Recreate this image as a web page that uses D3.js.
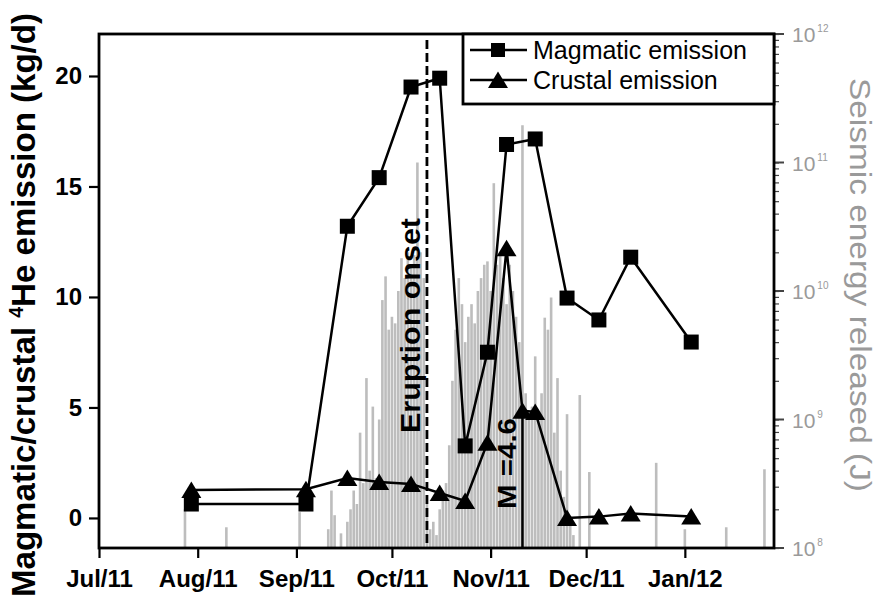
<!DOCTYPE html>
<html>
<head>
<meta charset="utf-8">
<script src="https://cdnjs.cloudflare.com/ajax/libs/d3/7.8.5/d3.min.js"></script>
<style>
body { margin: 0; background: #fff; }
svg { font-family: "Liberation Sans", Arial, sans-serif; }
</style>
</head>
<body>
<svg id="chart" width="879" height="601"></svg>
<script>
// helium emission, sampling campaigns (kg/d)
var magDates = ["2011-07-30", "2011-09-04", "2011-09-17", "2011-09-27", "2011-10-07", "2011-10-16", "2011-10-24",
                "2011-10-31", "2011-11-06", "2011-11-15", "2011-11-25", "2011-12-05", "2011-12-15", "2012-01-03"];
var magValues = [0.63, 0.63, 13.2, 15.4, 19.5, 19.9, 3.26, 7.5, 16.9, 17.15, 9.95, 8.96, 11.8, 7.96];

var crustDates = ["2011-07-30", "2011-09-04", "2011-09-17", "2011-09-27", "2011-10-07", "2011-10-16", "2011-10-24",
                  "2011-10-31", "2011-11-06", "2011-11-11", "2011-11-15", "2011-11-25", "2011-12-05", "2011-12-15", "2012-01-03"];
var crustValues = [1.27, 1.3, 1.81, 1.63, 1.54, 1.13, 0.77, 3.4, 12.2, 4.85, 4.8, 0.0, 0.06, 0.2, 0.06];

// daily seismic energy released (J)
var quakeDates = ["2011-07-28", "2011-08-10", "2011-09-02", "2011-09-11", "2011-09-12", "2011-09-13", "2011-09-15",
  "2011-09-17", "2011-09-18", "2011-09-19", "2011-09-20", "2011-09-21", "2011-09-22", "2011-09-23", "2011-09-24",
  "2011-09-25", "2011-09-26", "2011-09-27", "2011-09-28", "2011-09-29", "2011-09-30", "2011-10-01", "2011-10-02",
  "2011-10-03", "2011-10-04", "2011-10-05", "2011-10-06", "2011-10-07", "2011-10-08", "2011-10-09", "2011-10-10",
  "2011-10-11", "2011-10-12", "2011-10-13", "2011-10-14", "2011-10-15", "2011-10-16", "2011-10-17", "2011-10-18",
  "2011-10-19", "2011-10-20", "2011-10-21", "2011-10-22", "2011-10-23", "2011-10-24", "2011-10-25", "2011-10-26",
  "2011-10-27", "2011-10-28", "2011-10-29", "2011-10-30", "2011-10-31", "2011-11-01", "2011-11-02", "2011-11-03",
  "2011-11-04", "2011-11-05", "2011-11-06", "2011-11-07", "2011-11-08", "2011-11-09", "2011-11-10", "2011-11-11",
  "2011-11-12", "2011-11-13", "2011-11-14", "2011-11-15", "2011-11-16", "2011-11-17", "2011-11-18", "2011-11-19",
  "2011-11-20", "2011-11-21", "2011-11-22", "2011-11-23", "2011-11-24", "2011-11-25", "2011-11-26", "2011-11-27",
  "2011-11-29", "2011-12-02", "2011-12-23", "2012-01-01", "2012-01-14", "2012-01-26"];
var quakeEnergy = [2.0e8, 1.45e8, 1.9e8, 1.4e8, 2.8e8, 1.8e8, 1.3e8,
  1.6e8, 2.0e8, 2.8e8, 2.2e8, 7.9e8, 3.2e8, 2.1e9, 4.0e8,
  1.26e9, 3.5e8, 1.0e9, 8.5e9, 1.3e10, 5.0e9, 6.3e9, 5.6e9,
  1.0e10, 1.8e10, 1.26e10, 2.0e10, 1.6e10, 1.9e10, 1.0e11, 2.0e10,
  1.26e10, 2.2e8, 1.4e8, 1.6e8, 1.26e8, 2.0e8, 2.8e8, 3.2e8,
  6.3e8, 2.0e9, 5.0e9, 1.26e10, 7.9e9, 4.0e9, 6.3e9, 7.9e9,
  5.6e9, 1.0e10, 1.26e10, 1.6e10, 1.7e10, 1.0e10, 6.9e10, 1.6e10,
  2.0e10, 1.26e10, 7.9e9, 1.6e10, 1.0e10, 6.3e9, 4.0e9, 1.95e11,
  1.6e9, 1.0e9, 1.26e9, 3.1e9, 1.0e9, 1.6e9, 6.2e9, 5.0e9,
  8.9e9, 7.9e8, 2.1e9, 4.0e8, 2.5e8, 1.1e9, 1.6e8, 1.26e8,
  1.55e9, 3.9e8, 4.6e8, 1.4e8, 1.45e8, 4.1e8];

var eruptionDate = "2011-10-12";
var bigQuakeDate = "2011-11-11";
var bigQuakeMag = 4.6;

var leftTicks = [0, 5, 10, 15, 20];
var rightExponents = [8, 9, 10, 11, 12];
var legendLabels = ["Magmatic emission", "Crustal emission"];

function drawChart() {
    var svg = d3.select("#chart");
    var parse = d3.timeParse("%Y-%m-%d");
    var pl = 99, pr = 774, pt = 34, pb = 548;

    var x = d3.scaleTime().domain([parse("2011-07-01"), parse("2012-01-29")]).range([pl, pr]);
    var y = d3.scaleLinear().domain([-1.36, 21.9]).range([pb, pt]);
    var yE = d3.scaleLog().domain([1e8, 1e12]).range([pb, pt]);

    // seismic energy bars
    svg.append("g").selectAll("rect")
        .data(quakeDates.map(function(d, i) { return { date: parse(d), e: quakeEnergy[i] }; }))
        .enter().append("rect")
        .attr("x", function(d) { return x(d.date) - 1.3; })
        .attr("width", 2.6)
        .attr("y", function(d) { return yE(d.e); })
        .attr("height", function(d) { return pb - yE(d.e); })
        .attr("fill", "#bdbdbd");

    // M 4.6 event
    var qx = x(parse(bigQuakeDate));
    svg.append("line")
        .attr("x1", qx).attr("x2", qx)
        .attr("y1", pb).attr("y2", y(bigQuakeMag))
        .attr("stroke", "#000").attr("stroke-width", 2.5);
    svg.append("text")
        .attr("transform", "translate(" + (qx - 6) + "," + 509 + ") rotate(-90)")
        .attr("font-size", 25).attr("font-weight", "bold")
        .attr("textLength", 91).attr("lengthAdjust", "spacingAndGlyphs")
        .text("M =" + bigQuakeMag);

    // eruption onset
    var ex = x(parse(eruptionDate));
    svg.append("line")
        .attr("x1", ex).attr("x2", ex)
        .attr("y1", 40).attr("y2", pb)
        .attr("stroke", "#000").attr("stroke-width", 2.8)
        .attr("stroke-dasharray", "9,4");
    svg.append("text")
        .attr("transform", "translate(" + (ex - 7) + "," + 433 + ") rotate(-90)")
        .attr("font-size", 27).attr("font-weight", "bold")
        .attr("textLength", 215).attr("lengthAdjust", "spacingAndGlyphs")
        .text("Eruption onset");

    var line = d3.line().x(function(d) { return x(d[0]); }).y(function(d) { return y(d[1]); });
    var magData = magDates.map(function(d, i) { return [parse(d), magValues[i]]; });
    var crustData = crustDates.map(function(d, i) { return [parse(d), crustValues[i]]; });

    var triPath = "M0,-8.5L10,8L-10,8Z";

    svg.append("path").datum(crustData).attr("d", line)
        .attr("fill", "none").attr("stroke", "#000").attr("stroke-width", 2.5);
    svg.append("path").datum(magData).attr("d", line)
        .attr("fill", "none").attr("stroke", "#000").attr("stroke-width", 2.5);

    svg.append("g").selectAll("path").data(crustData).enter().append("path")
        .attr("transform", function(d) { return "translate(" + x(d[0]) + "," + y(d[1]) + ")"; })
        .attr("d", triPath).attr("fill", "#000");
    svg.append("g").selectAll("rect").data(magData).enter().append("rect")
        .attr("x", function(d) { return x(d[0]) - 7.5; })
        .attr("y", function(d) { return y(d[1]) - 7.5; })
        .attr("width", 15).attr("height", 15).attr("fill", "#000");

    // axes
    var gx = svg.append("g").attr("transform", "translate(0," + pb + ")")
        .call(d3.axisBottom(x).ticks(d3.timeMonth.every(1)).tickFormat(d3.timeFormat("%b/%y")).tickSize(10));
    gx.select(".domain").remove();
    gx.selectAll("line").attr("stroke-width", 2.2);
    gx.selectAll("text").attr("y", 39).attr("dy", 0)
        .attr("font-size", 24).attr("font-weight", "bold").attr("font-family", null);

    var gy = svg.append("g").attr("transform", "translate(" + pl + ",0)")
        .call(d3.axisLeft(y).tickValues(leftTicks).tickSize(10).tickPadding(7));
    gy.select(".domain").remove();
    gy.selectAll("line").attr("stroke-width", 2.2);
    gy.selectAll("text").attr("font-size", 24).attr("font-weight", "bold").attr("font-family", null);

    var majors = rightExponents.map(function(n) { return Math.pow(10, n); });
    var gr = svg.append("g").attr("transform", "translate(" + pr + ",0)");
    gr.call(d3.axisRight(yE).tickValues(yE.ticks()).tickSize(5).tickFormat(""));
    gr.select(".domain").remove();
    gr.selectAll("line").attr("stroke", "#444").attr("stroke-width", 1.2);
    gr.selectAll(".major").data(majors).enter().append("line")
        .attr("x1", 0).attr("x2", 10)
        .attr("y1", function(d) { return yE(d); }).attr("y2", function(d) { return yE(d); })
        .attr("stroke", "#444").attr("stroke-width", 2);
    var rl = gr.selectAll(".rlab").data(rightExponents).enter().append("text")
        .attr("x", 18).attr("y", function(n) { return yE(Math.pow(10, n)) + 8; })
        .attr("font-size", 21).attr("fill", "#9a9a9a");
    rl.append("tspan").text("10");
    rl.append("tspan").attr("dy", -10).attr("dx", 2).attr("font-size", 10).text(function(n) { return n; });

    // frame
    svg.append("rect").attr("x", pl).attr("y", pt).attr("width", pr - pl).attr("height", pb - pt)
        .attr("fill", "none").attr("stroke", "#000").attr("stroke-width", 2.8);

    // axis titles
    var lt = svg.append("text")
        .attr("transform", "translate(35,305) rotate(-90)")
        .attr("text-anchor", "middle").attr("font-size", 34).attr("font-weight", "bold")
        .attr("textLength", 584).attr("lengthAdjust", "spacingAndGlyphs");
    lt.append("tspan").text("Magmatic/crustal ");
    lt.append("tspan").attr("font-size", 20).attr("dy", -12).text("4");
    lt.append("tspan").attr("dy", 12).text("He emission (kg/d)");

    svg.append("text")
        .attr("transform", "translate(850,285) rotate(90)")
        .attr("text-anchor", "middle").attr("font-size", 29).attr("fill", "#9a9a9a")
        .attr("textLength", 414).attr("lengthAdjust", "spacingAndGlyphs")
        .text("Seismic energy released (J)");

    // legend
    var lg = svg.append("g");
    lg.append("rect").attr("x", 463).attr("y", pt).attr("width", pr - 463).attr("height", 70)
        .attr("fill", "#fff").attr("stroke", "#000").attr("stroke-width", 2.8);
    var rows = lg.selectAll(".row").data(legendLabels).enter().append("g")
        .attr("transform", function(d, i) { return "translate(0," + (50 + i * 30) + ")"; });
    rows.append("line").attr("x1", 470).attr("x2", 527).attr("stroke", "#000").attr("stroke-width", 2.5);
    rows.each(function(d, i) {
        var r = d3.select(this);
        if (i === 0) {
            r.append("rect").attr("x", 491).attr("y", -7).attr("width", 14).attr("height", 14).attr("fill", "#000");
        } else {
            r.append("path").attr("transform", "translate(498,0)").attr("d", triPath).attr("fill", "#000");
        }
    });
    rows.append("text").attr("x", 533).attr("dy", "0.35em").attr("font-size", 25).text(function(d) { return d; });
}

drawChart();
</script>
</body>
</html>
